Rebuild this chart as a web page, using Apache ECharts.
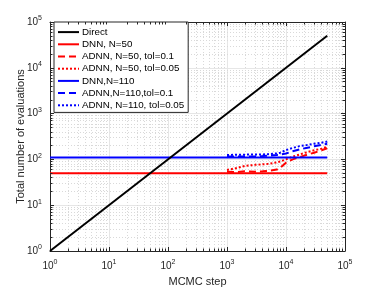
<!DOCTYPE html>
<html><head><meta charset="utf-8">
<script src="https://cdn.jsdelivr.net/npm/echarts@6/dist/echarts.min.js"></script>
<style>html,body{margin:0;padding:0;background:#fff}#c{width:382px;height:287px}</style>
</head><body><div id="c"></div>
<script>
// ---- data ----
const directSteps = [1, 50000];
const directValues = [1, 50000];
const dnnSteps = [1, 50000];
const dnn50Values = [50, 50];
const dnn110Values = [110, 110];
const adnnSteps = [1000, 1500, 2000, 3000, 4000, 5000, 7000, 8000, 10000, 13000, 17000, 22000, 30000, 40000, 50000];
const adnn50tol01 = [54, 53, 55, 54, 55, 56, 60, 66, 85, 100, 112, 125, 140, 158, 175];
const adnn50tol005 = [59, 65, 72, 76, 78, 80, 86, 90, 100, 115, 128, 142, 158, 172, 190];
const adnn110tol01 = [115, 115, 116, 117, 118, 120, 125, 128, 135, 150, 165, 178, 193, 207, 220];
const adnn110tol005 = [125, 126, 127, 128, 128, 130, 135, 140, 160, 178, 195, 205, 220, 232, 245];
const decadeExps = [0, 1, 2, 3, 4];
const minorMultipliers = [2, 3, 4, 5, 6, 7, 8, 9];
const seriesNames = ['Direct', 'DNN, N=50', 'ADNN, N=50, tol=0.1', 'ADNN, N=50, tol=0.05', 'DNN,N=110', 'ADNN,N=110,tol=0.1', 'ADNN, N=110, tol=0.05'];

const zip = (a, b) => a.map((v, i) => [v, b[i]]);
const FONT = '"Liberation Sans", Arial, Helvetica, sans-serif';
const RED = '#ff0000', BLUE = '#0000ff';
const AX_MIN = 1, AX_MAX = 100000;
const minorVals = [];
decadeExps.forEach(e => minorMultipliers.forEach(m => minorVals.push(m * Math.pow(10, e))));

const labelFmt = v => '10{sup|' + Math.round(Math.log10(v)) + '}';
const rich = { sup: { fontSize: 7, fontFamily: FONT, color: '#262626', padding: [0, 0, 7, 0] } };

function axisBase(pos, showLabel) {
  return {
    type: 'log', logBase: 10, min: AX_MIN, max: AX_MAX, position: pos,
    axisLine: { show: true, lineStyle: { color: '#262626', width: 1 } },
    axisTick: { show: true, inside: true, length: 4, lineStyle: { color: '#262626' } },
    axisLabel: showLabel ? { show: true, formatter: labelFmt, rich: rich, fontSize: 10, fontFamily: FONT, color: '#262626' } : { show: false },
    splitLine: { show: showLabel, lineStyle: { color: '#e6e6e6', width: 1 } }
  };
}

const lineSeries = (name, data, color, type, z) => ({
  name: name, type: 'line', data: data, symbol: 'none', showSymbol: false, z: z || 3,
  lineStyle: { color: color, width: 2, type: type }, itemStyle: { color: color },
  animation: false
});

// minor tick marks (short segments inside the box), length expressed as a factor on the log scale
const tickFx = Math.pow(10, 2.5 / 59), tickFy = Math.pow(10, 2.5 / 46);
const minorTickSegs = [];
minorVals.forEach(v => {
  minorTickSegs.push([{ coord: [v, AX_MIN] }, { coord: [v, AX_MIN * tickFy] }]);
  minorTickSegs.push([{ coord: [v, AX_MAX] }, { coord: [v, AX_MAX / tickFy] }]);
  minorTickSegs.push([{ coord: [AX_MIN, v] }, { coord: [AX_MIN * tickFx, v] }]);
  minorTickSegs.push([{ coord: [AX_MAX, v] }, { coord: [AX_MAX / tickFx, v] }]);
});

const option = {
  animation: false,
  grid: { left: 50, right: 37, top: 22, bottom: 36, show: false, containLabel: false, outerBoundsMode: 'none' },
  xAxis: [
    Object.assign(axisBase('bottom', true), {
      name: 'MCMC step', nameLocation: 'middle', nameGap: 25, nameMoveOverlap: false,
      nameTextStyle: { fontSize: 11, fontFamily: FONT, color: '#262626' }
    }),
    axisBase('top', false)
  ],
  yAxis: [
    Object.assign(axisBase('left', true), {
      name: 'Total number of evaluations', nameLocation: 'middle', nameGap: 24, nameMoveOverlap: false,
      nameTextStyle: { fontSize: 11, fontFamily: FONT, color: '#262626' }
    }),
    axisBase('right', false)
  ],
  legend: {
    left: 54, top: 22, orient: 'vertical', itemGap: 0, itemWidth: 21, itemHeight: 12,
    padding: [4, 4, 1, 3], backgroundColor: '#fff', borderColor: '#262626', borderWidth: 1,
    itemStyle: { opacity: 0 },
    textStyle: { fontSize: 9.8, lineHeight: 12.2, fontFamily: FONT, color: '#000', padding: [0, 0, 0, -2] },
    data: seriesNames
  },
  series: [
    {
      name: 'grid-minor', type: 'line', data: [[1, 1]], symbol: 'none', lineStyle: { opacity: 0 }, z: 1, silent: true,
      markLine: {
        silent: true, symbol: 'none', label: { show: false }, z: 0,
        lineStyle: { color: '#d9d9d9', type: [1, 2], width: 1 },
        data: minorVals.map(v => ({ xAxis: v })).concat(minorVals.map(v => ({ yAxis: v })))
      }
    },
    {
      name: 'minor-ticks', type: 'line', data: [[1, 1]], symbol: 'none', lineStyle: { opacity: 0 }, z: 1, silent: true,
      markLine: {
        silent: true, symbol: 'none', label: { show: false }, z: 6,
        lineStyle: { color: '#262626', type: 'solid', width: 1 },
        data: minorTickSegs
      }
    },
    lineSeries(seriesNames[0], zip(directSteps, directValues), '#000000', 'solid', 4),
    lineSeries(seriesNames[1], zip(dnnSteps, dnn50Values), RED, 'solid'),
    lineSeries(seriesNames[2], zip(adnnSteps, adnn50tol01), RED, [7, 4]),
    lineSeries(seriesNames[3], zip(adnnSteps, adnn50tol005), RED, [2, 2]),
    lineSeries(seriesNames[4], zip(dnnSteps, dnn110Values), BLUE, 'solid'),
    lineSeries(seriesNames[5], zip(adnnSteps, adnn110tol01), BLUE, [7, 4]),
    lineSeries(seriesNames[6], zip(adnnSteps, adnn110tol005), BLUE, [2, 2])
  ]
};
const chart = echarts.init(document.getElementById('c'), null, { renderer: 'canvas' });
chart.setOption(option);
</script></body></html>
